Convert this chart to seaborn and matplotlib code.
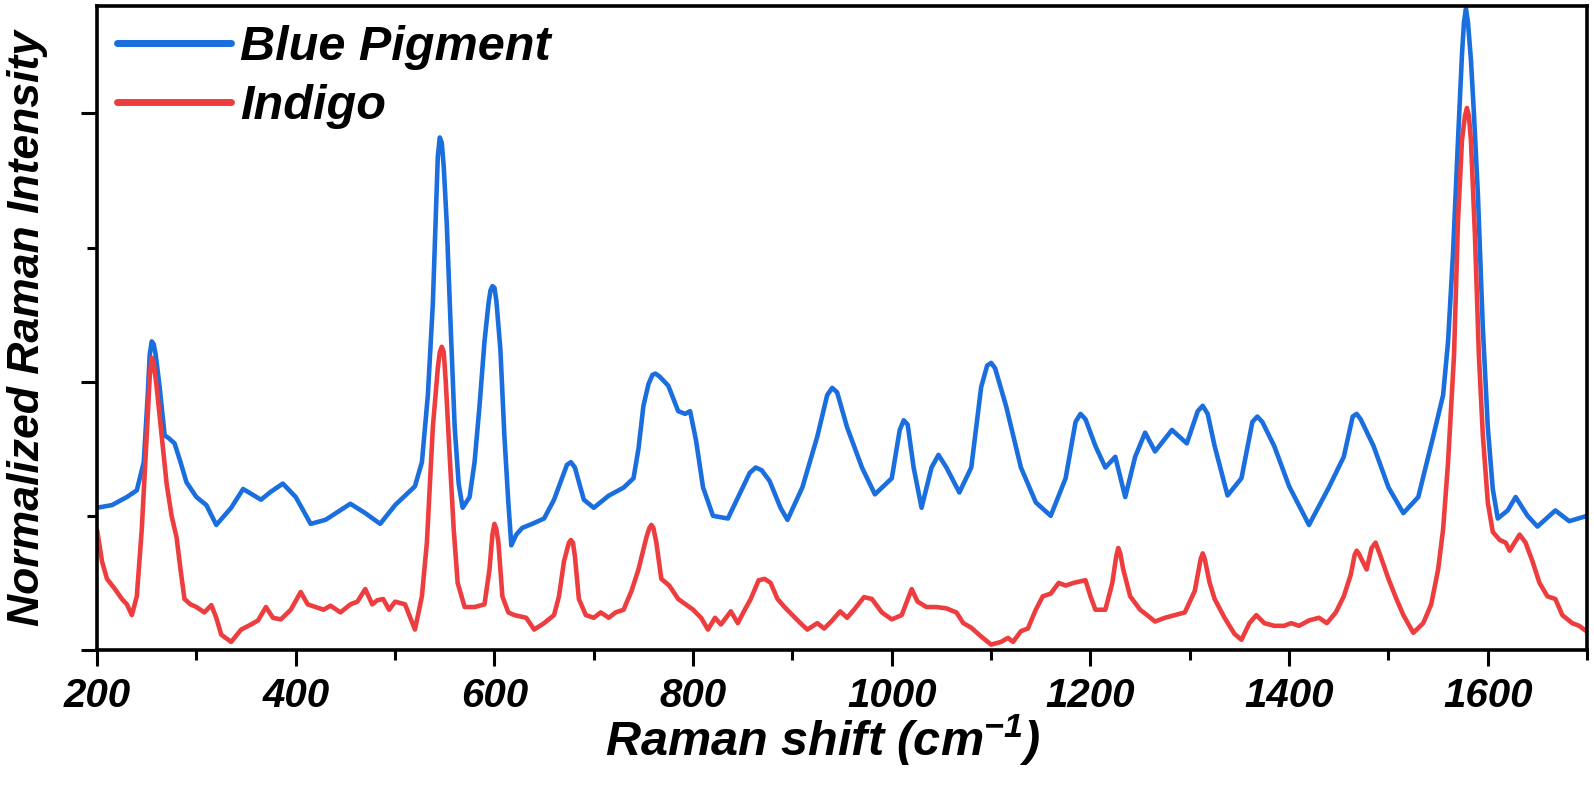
import numpy as np
import pandas as pd
import seaborn as sns
import matplotlib
matplotlib.use("Agg")
import matplotlib.pyplot as plt
from matplotlib.ticker import MultipleLocator, NullFormatter
from matplotlib.font_manager import FontProperties

# ---------------- data ----------------
blue_shift = [200, 215, 230, 240, 247, 251, 253, 255, 257, 259, 263, 268, 272, 278, 284, 290, 300, 310,
              320, 335, 347, 365, 375, 387, 400, 415, 430, 455, 470, 485, 500, 510, 520, 527, 533, 538,
              541, 543, 545, 547, 549, 552, 556, 560, 564, 568, 575, 580, 585, 590, 594, 596, 598, 600,
              602, 606, 610, 614, 617, 622, 628, 638, 650, 660, 668, 673, 677, 681, 684, 690, 700, 715,
              730, 740, 745, 750, 755, 759, 762, 766, 775, 785, 792, 797, 803, 810, 820, 835, 848, 857,
              863, 869, 877, 888, 895, 910, 925, 935, 940, 945, 955, 970, 983, 1000, 1008, 1012, 1016,
              1022, 1030, 1040, 1047, 1055, 1068, 1080, 1090, 1096, 1100, 1104, 1115, 1130, 1145, 1160,
              1175, 1185, 1190, 1195, 1205, 1215, 1225, 1235, 1245, 1255, 1265, 1282, 1297, 1308, 1313,
              1318, 1325, 1338, 1352, 1363, 1368, 1373, 1385, 1400, 1420, 1440, 1455, 1464, 1468, 1472,
              1485, 1500, 1515, 1530, 1545, 1555, 1560, 1565, 1570, 1574, 1576, 1578, 1580, 1583, 1586,
              1590, 1595, 1600, 1605, 1610, 1620, 1628, 1640, 1650, 1668, 1682, 1700]
blue_int = [0.53, 0.54, 0.57, 0.595, 0.70, 0.95, 1.10, 1.15, 1.14, 1.10, 0.98, 0.80, 0.79, 0.77, 0.70,
            0.625, 0.57, 0.54, 0.466, 0.53, 0.60, 0.56, 0.59, 0.62, 0.57, 0.47, 0.485, 0.545, 0.51,
            0.47, 0.54, 0.575, 0.61, 0.70, 0.95, 1.29, 1.62, 1.84, 1.91, 1.89, 1.80, 1.59, 1.20, 0.83,
            0.62, 0.53, 0.57, 0.70, 0.91, 1.15, 1.29, 1.34, 1.356, 1.35, 1.30, 1.12, 0.80, 0.55, 0.39,
            0.43, 0.455, 0.47, 0.49, 0.56, 0.64, 0.69, 0.70, 0.68, 0.64, 0.56, 0.53, 0.575, 0.605, 0.64,
            0.75, 0.91, 0.99, 1.025, 1.03, 1.02, 0.985, 0.89, 0.88, 0.89, 0.78, 0.606, 0.50, 0.49,
            0.59, 0.66, 0.68, 0.67, 0.63, 0.53, 0.485, 0.606, 0.795, 0.95, 0.977, 0.96, 0.83, 0.68, 0.58,
            0.64, 0.82, 0.856, 0.84, 0.68, 0.53, 0.68, 0.727, 0.68, 0.587, 0.68, 0.98, 1.06, 1.07, 1.05,
            0.91, 0.68, 0.55, 0.50, 0.64, 0.85, 0.88, 0.86, 0.76, 0.68, 0.72, 0.57, 0.72, 0.81, 0.74,
            0.82, 0.77, 0.89, 0.91, 0.88, 0.76, 0.576, 0.64, 0.85, 0.87, 0.85, 0.76, 0.61, 0.466, 0.606,
            0.72, 0.87, 0.88, 0.86, 0.76, 0.606, 0.51, 0.57, 0.795, 0.95, 1.15, 1.48, 1.90, 2.22, 2.34,
            2.39, 2.34, 2.20, 2.00, 1.70, 1.20, 0.83, 0.60, 0.49, 0.52, 0.57, 0.50, 0.46, 0.52, 0.48, 0.50]

red_shift = [200, 205, 210, 218, 225, 230, 235, 240, 245, 250, 253, 255, 257, 260, 265, 270, 275, 280,
             284, 288, 294, 300, 308, 315, 320, 325, 335, 345, 355, 362, 370, 377, 385, 395, 405, 412,
             420, 428, 435, 445, 455, 462, 470, 477, 482, 488, 494, 500, 510, 520, 527, 532, 538, 543,
             545, 547, 549, 551, 555, 559, 563, 570, 580, 590, 595, 598, 600, 602, 604, 608, 614, 620,
             632, 640, 650, 660, 665, 670, 675, 677, 679, 681, 685, 692, 700, 707, 715, 722, 730, 738,
             745, 753, 756, 758, 760, 763, 768, 776, 785, 800, 808, 815, 822, 828, 838, 845, 852, 858,
             866, 872, 878, 885, 892, 900, 908, 915, 925, 932, 940, 948, 955, 962, 972, 980, 990, 1000,
             1010, 1020, 1026, 1035, 1045, 1055, 1065, 1072, 1080, 1090, 1100, 1110, 1117, 1122, 1130,
             1137, 1145, 1152, 1160, 1168, 1175, 1183, 1195, 1200, 1205, 1215, 1222, 1226, 1228, 1230,
             1233, 1240, 1250, 1257, 1265, 1275, 1285, 1295, 1305, 1311, 1313, 1315, 1320, 1325, 1335,
             1345, 1352, 1360, 1367, 1375, 1385, 1395, 1402, 1410, 1420, 1430, 1438, 1447, 1455, 1462,
             1466, 1468, 1470, 1474, 1478, 1483, 1487, 1492, 1500, 1508, 1515, 1525, 1535, 1543, 1550,
             1555, 1560, 1566, 1570, 1574, 1577, 1579, 1581, 1583, 1587, 1591, 1595, 1600, 1605, 1612,
             1618, 1622, 1632, 1638, 1645, 1652, 1660, 1668, 1675, 1685, 1692, 1700]
red_int = [0.447, 0.33, 0.265, 0.227, 0.19, 0.17, 0.13, 0.20, 0.45, 0.80, 1.02, 1.09, 1.07, 0.98, 0.80,
           0.62, 0.50, 0.42, 0.30, 0.19, 0.17, 0.16, 0.14, 0.167, 0.12, 0.057, 0.03, 0.076, 0.095, 0.11,
           0.16, 0.12, 0.114, 0.15, 0.216, 0.17, 0.16, 0.15, 0.165, 0.14, 0.17, 0.18, 0.227, 0.17,
           0.185, 0.19, 0.15, 0.18, 0.17, 0.076, 0.20, 0.40, 0.83, 1.05, 1.11, 1.13, 1.11, 1.00, 0.72,
           0.45, 0.25, 0.16, 0.16, 0.17, 0.30, 0.43, 0.47, 0.45, 0.40, 0.20, 0.14, 0.13, 0.12, 0.076,
           0.10, 0.13, 0.20, 0.33, 0.40, 0.41, 0.40, 0.35, 0.19, 0.13, 0.12, 0.14, 0.12, 0.14, 0.15,
           0.22, 0.30, 0.42, 0.455, 0.466, 0.455, 0.40, 0.265, 0.24, 0.19, 0.15, 0.12, 0.076, 0.12,
           0.095, 0.144, 0.10, 0.15, 0.19, 0.26, 0.265, 0.25, 0.19, 0.16, 0.13, 0.10, 0.076, 0.10,
           0.08, 0.11, 0.144, 0.12, 0.15, 0.197, 0.19, 0.14, 0.114, 0.13, 0.227, 0.18, 0.16, 0.16,
           0.155, 0.14, 0.10, 0.083, 0.05, 0.02, 0.03, 0.045, 0.03, 0.07, 0.08, 0.15, 0.20, 0.21,
           0.25, 0.24, 0.25, 0.26, 0.20, 0.15, 0.15, 0.25, 0.35, 0.38, 0.36, 0.30, 0.20, 0.15, 0.13,
           0.106, 0.12, 0.13, 0.14, 0.22, 0.34, 0.36, 0.34, 0.25, 0.19, 0.12, 0.06, 0.038, 0.10, 0.13,
           0.10, 0.09, 0.09, 0.10, 0.09, 0.11, 0.12, 0.10, 0.14, 0.20, 0.28, 0.355, 0.37, 0.36, 0.33,
           0.30, 0.38, 0.40, 0.35, 0.265, 0.19, 0.13, 0.064, 0.10, 0.17, 0.30, 0.45, 0.70, 1.10, 1.60,
           1.90, 1.99, 2.02, 1.99, 1.90, 1.55, 1.10, 0.80, 0.55, 0.44, 0.41, 0.40, 0.37, 0.43, 0.40,
           0.33, 0.25, 0.20, 0.19, 0.13, 0.10, 0.09, 0.068]

series_names = ["Blue Pigment", "Indigo"]
series_colors = ["#1A6EDD", "#EE3D3F"]
x_major_ticks = [200, 400, 600, 800, 1000, 1200, 1400, 1600]

# ---------------- style ----------------
sns.set_theme(style="ticks")
plt.rcParams["font.family"] = ["Liberation Sans", "DejaVu Sans"]
plt.rcParams["font.weight"] = "bold"
plt.rcParams["font.style"] = "italic"
plt.rcParams["text.color"] = "black"
plt.rcParams["axes.labelcolor"] = "black"
plt.rcParams["xtick.color"] = "black"
plt.rcParams["ytick.color"] = "black"
plt.rcParams["mathtext.fontset"] = "custom"
plt.rcParams["mathtext.rm"] = "Liberation Sans:bold:italic"
plt.rcParams["mathtext.it"] = "Liberation Sans:bold:italic"
plt.rcParams["mathtext.bf"] = "Liberation Sans:bold:italic"
plt.rcParams["mathtext.default"] = "it"

df = pd.concat([
    pd.DataFrame({"shift": blue_shift, "intensity": blue_int, "sample": series_names[0]}),
    pd.DataFrame({"shift": red_shift, "intensity": red_int, "sample": series_names[1]}),
], ignore_index=True)

fig = plt.figure(figsize=(15.94, 7.94), dpi=100)
ax = fig.add_axes([0.0609, 0.1814, 0.9348, 0.811])

sns.lineplot(data=df, x="shift", y="intensity", hue="sample", hue_order=series_names,
             palette=dict(zip(series_names, series_colors)), sort=False, estimator=None,
             linewidth=3.3, ax=ax)
for ln in ax.get_lines():
    ln.set_solid_joinstyle("round")
    ln.set_solid_capstyle("round")

ax.set_xlim(200, 1700)
ax.set_ylim(0, 2.40)
ax.set_xticks(x_major_ticks)
ax.xaxis.set_minor_locator(MultipleLocator(100))
ax.yaxis.set_major_locator(MultipleLocator(1))
ax.yaxis.set_minor_locator(MultipleLocator(0.5))
ax.yaxis.set_major_formatter(NullFormatter())

for s in ax.spines.values():
    s.set_visible(True)
    s.set_linewidth(2.6)
    s.set_color("black")

ax.tick_params(axis="both", which="major", direction="out", length=11.5, width=2.2,
               color="black", labelsize=29, pad=8, labelcolor="black")
ax.tick_params(axis="both", which="minor", direction="out", length=7, width=2.2, color="black")
for lab in ax.get_xticklabels():
    lab.set_fontweight("bold")
    lab.set_fontstyle("italic")
    lab.set_color("black")

ax.set_xlabel("Raman shift (cm$^{-1}$)", fontsize=35, fontweight="bold", fontstyle="italic",
              color="black")
ax.set_ylabel("Normalized Raman Intensity", fontsize=32, fontweight="bold", fontstyle="italic",
              color="black")
ax.xaxis.set_label_coords(0.487, -0.097)
ax.yaxis.set_label_coords(-0.033, 0.5)

handles, labels = ax.get_legend_handles_labels()
leg = ax.legend(handles, labels, loc="upper left", frameon=False,
                prop=FontProperties(family="Liberation Sans", weight="bold", style="italic", size=35),
                handlelength=2.35, handletextpad=0.2, labelspacing=0.28,
                borderaxespad=0.15, borderpad=0.25)
for t in leg.get_texts():
    t.set_color("black")
for h in leg.get_lines():
    h.set_linewidth(5)
    h.set_solid_capstyle("round")

fig.savefig("out.png", dpi=100, facecolor="white")
